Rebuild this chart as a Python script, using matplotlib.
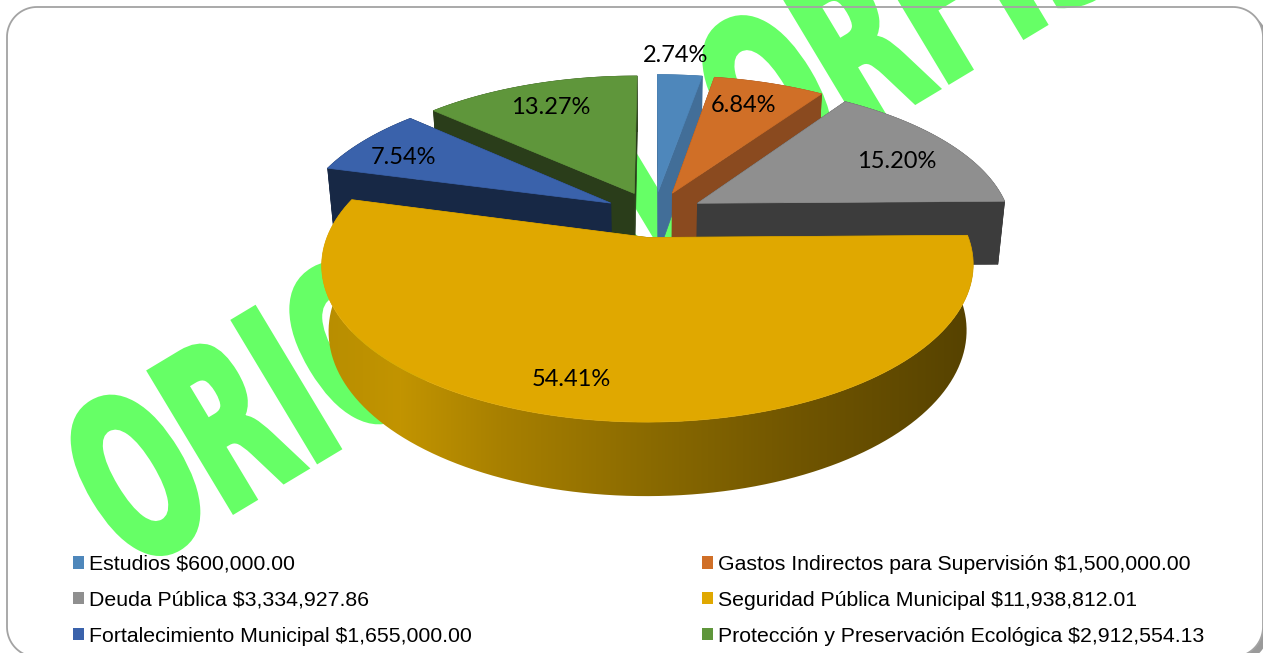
import numpy as np
import matplotlib
matplotlib.use('Agg')
import matplotlib.pyplot as plt
from matplotlib.patches import Polygon, Patch
from matplotlib.patheffects import AbstractPathEffect
from matplotlib.transforms import Affine2D

names = ['Estudios $600,000.00',
         'Gastos Indirectos para Supervisión $1,500,000.00',
         'Deuda Pública $3,334,927.86',
         'Seguridad Pública Municipal $11,938,812.01',
         'Fortalecimiento Municipal $1,655,000.00',
         'Protección y Preservación Ecológica $2,912,554.13']
values = [600000.00, 1500000.00, 3334927.86, 11938812.01, 1655000.00, 2912554.13]
pct_labels = ['2.74%', '6.84%', '15.20%', '54.41%', '7.54%', '13.27%']
watermark = 'ORIGINAL ORFIS'

top_colors = ['#4E87BB', '#D06F27', '#8F8F8F', '#E0A800', '#3A62AB', '#5F963B']
side_colors = ['#426E98', '#8A4A1F', '#3C3C3C', '#7A5D00', '#172845', '#2A3D1A']
label_pos = [(676, 56), (744, 105), (897, 161), (571, 379), (404, 157), (551, 107)]
draw_order = [0, 5, 1, 4, 2, 3]
GOLD = 3

# projection of the tilted disc, in pixels
CX, CY = 654, 214
RX, RY = 312, 144
HEIGHT = 65
PERSP = 0.171
PERSP_D = 0.02
EXPLODE = 0.16


def project(u, v, d=0.0):
    s = 1 / (1 + PERSP * v + PERSP_D * d)
    return CX + RX * u * s, CY - RY * v * s + HEIGHT * d * s


def rounded_box(x0, y0, x1, y1, r):
    # straight segments only: agg drops curves that run past the canvas edge
    t = np.linspace(0, np.pi / 2, 24)
    pts = []
    for cx, cy, start in [(x1 - r, y0 + r, 0), (x1 - r, y1 - r, np.pi / 2),
                          (x0 + r, y1 - r, np.pi), (x0 + r, y0 + r, 1.5 * np.pi)]:
        pts += list(zip(cx + r * np.sin(start + t), cy - r * np.cos(start + t)))
    return pts


class Squeeze(AbstractPathEffect):
    # narrows the glyphs and thickens them with a stroke
    def __init__(self, sx, stroke):
        super().__init__()
        self.sx = sx
        self.stroke = stroke

    def draw_path(self, renderer, gc, tpath, affine, rgbFace=None):
        gc0 = renderer.new_gc()
        gc0.copy_properties(gc)
        gc0.set_linewidth(self.stroke)
        gc0.set_foreground(rgbFace)
        gc0.set_joinstyle('miter')
        renderer.draw_path(gc0, tpath, Affine2D().scale(self.sx, 1) + affine, rgbFace)
        gc0.restore()


fig = plt.figure(figsize=(12.63, 6.53), dpi=100)
ax = fig.add_axes([0, 0, 1, 1])
ax.set_xlim(0, 1263)
ax.set_ylim(653, 0)
ax.axis('off')

# card: soft shadow at the right corners, white face, then the outline over the watermark
ax.add_patch(Polygon(rounded_box(12, 12, 1268, 662, 30), fc='#9A9A9A', ec='none', zorder=0))
ax.add_patch(Polygon(rounded_box(7, 7, 1263, 657, 30), fc='white', ec='none', zorder=0.5))

ax.text(131, 573, watermark, family='DejaVu Sans', weight='bold', fontsize=161,
        color='#66FF66', rotation=31, rotation_mode='anchor', ha='left', va='baseline',
        path_effects=[Squeeze(0.57, 4)], zorder=1, clip_on=True)

ax.add_patch(Polygon(rounded_box(7, 7, 1263, 657, 30), fc='none', ec='#A3A3A3', lw=1.3, zorder=2))

fracs = np.array(values) / sum(values)
edges = np.concatenate([[0], np.cumsum(fracs)]) * 2 * np.pi

# left-to-right shading of the big slice's rim
gold_x = [325, 400, 500, 650, 800, 970]
gold_r = [184, 194, 168, 138, 112, 86]
gold_g = [142, 148, 128, 106, 85, 66]
grad_x = np.arange(300, 1000)
gradient = np.zeros((1, len(grad_x), 3))
gradient[0, :, 0] = np.interp(grad_x, gold_x, gold_r) / 255
gradient[0, :, 1] = np.interp(grad_x, gold_x, gold_g) / 255

z = 3
for i in draw_order:
    a0, a1 = edges[i], edges[i + 1]
    mid = (a0 + a1) / 2
    ox, oy = EXPLODE * np.sin(mid), EXPLODE * np.cos(mid)
    angs = np.linspace(a0, a1, 120)
    us = ox + np.sin(angs)
    vs = oy + np.cos(angs)

    # radial cut faces, then the rim
    for a in (a0, a1):
        u, v = ox + np.sin(a), oy + np.cos(a)
        quad = [project(ox, oy), project(u, v), project(u, v, 1), project(ox, oy, 1)]
        ax.add_patch(Polygon(quad, fc=side_colors[i], ec=side_colors[i], lw=0.5, zorder=z))
    rim = [project(u, v) for u, v in zip(us, vs)] + \
          [project(u, v, 1) for u, v in zip(us[::-1], vs[::-1])]
    if i == GOLD:
        patch = Polygon(rim, fc='none', ec='none', zorder=z)
        ax.add_patch(patch)
        im = ax.imshow(gradient, extent=(300, 1000, 520, 200), aspect='auto', zorder=z)
        im.set_clip_path(patch)
        ax.set_xlim(0, 1263)
        ax.set_ylim(653, 0)
    else:
        ax.add_patch(Polygon(rim, fc=side_colors[i], ec=side_colors[i], lw=0.5, zorder=z))

    # top face
    top = [project(ox, oy)] + [project(u, v) for u, v in zip(us, vs)]
    ax.add_patch(Polygon(top, fc=top_colors[i], ec=top_colors[i], lw=0.5, zorder=z + 0.5))
    z += 1

for txt, (x, y) in zip(pct_labels, label_pos):
    ax.text(x, y, txt, family='Lato', fontsize=17, color='black',
            ha='center', va='center', zorder=20)

order = [0, 2, 4, 1, 3, 5]
handles = [Patch(fc=top_colors[i], ec='none', label=names[i]) for i in order]
ax.legend(handles=handles, ncol=2, loc='upper left', bbox_to_anchor=(73, 555),
          bbox_transform=ax.transData, frameon=False, borderpad=0, borderaxespad=0,
          prop={'family': 'Liberation Sans', 'size': 15.3},
          handlelength=0.52, handleheight=0.52, handletextpad=0.25,
          labelspacing=0.79, columnspacing=10.82)

fig.savefig('out.png', dpi=100)
